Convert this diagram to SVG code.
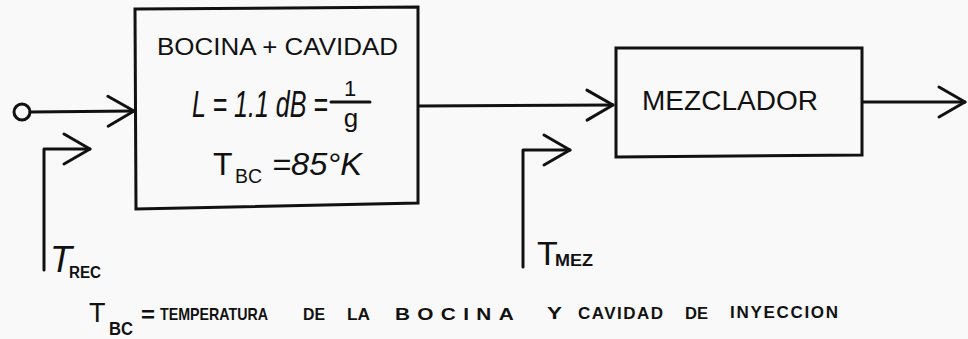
<svg xmlns="http://www.w3.org/2000/svg" width="968" height="339" viewBox="0 0 968 339">
<style>
.ln{fill:none;stroke:#111;stroke-width:3;stroke-linecap:round;stroke-linejoin:round}
.box{fill:none;stroke:#111;stroke-width:3;stroke-linejoin:miter}
.t{font-family:"Liberation Sans",Arial,sans-serif;fill:#111}
.b{font-weight:bold}
.i{font-style:italic}
.w{font-family:"Liberation Sans",Arial,sans-serif;fill:#111;font-weight:bold;font-size:17px}
</style>
<defs>
<marker id="chev" viewBox="-30 -19 34 38" refX="0" refY="0" markerWidth="34" markerHeight="38" markerUnits="userSpaceOnUse" orient="auto">
<path d="M-26,-15 L0,0 L-26,15" fill="none" stroke="#111" stroke-width="3" stroke-linecap="round" stroke-linejoin="round"/>
</marker>
</defs>
<rect width="968" height="339" fill="#f9f9f9"/>
<g id="connectors">
<circle cx="22" cy="112" r="8" class="ln"/>
<path class="ln" d="M30 112 L134 111" marker-end="url(#chev)"/>
<path class="ln" d="M44 270 L44 149 L90 149" marker-end="url(#chev)"/>
<path class="ln" d="M419 106 L613 105" marker-end="url(#chev)"/>
<path class="ln" d="M523 267 L523 150 L570 150" marker-end="url(#chev)"/>
<path class="ln" d="M863 102 L965 102" marker-end="url(#chev)"/>
</g>
<g id="bocina">
<path class="box" d="M135 9 L418 7 L418 203 L136 209 Z"/>
<text class="t" x="157" y="55" font-size="23" textLength="241" lengthAdjust="spacingAndGlyphs">BOCINA + CAVIDAD</text>
<text class="t i" x="192" y="117" font-size="37" textLength="136" lengthAdjust="spacingAndGlyphs">L = 1.1 dB =</text>
<text class="t" x="350" y="96" font-size="22" text-anchor="middle">1</text>
<line x1="331" y1="102" x2="370" y2="102" class="ln" stroke-width="2.5"/>
<text class="t" x="351" y="127" font-size="26" text-anchor="middle">g</text>
<text class="t" x="213" y="175" font-size="32">T</text>
<text class="t" x="235" y="183" font-size="20" textLength="27" lengthAdjust="spacingAndGlyphs">BC</text>
<text class="t i" x="272" y="175" font-size="32" textLength="90" lengthAdjust="spacingAndGlyphs">=85°K</text>
</g>
<g id="mezclador">
<path class="box" d="M616 48 L862 48 L862 155 L616 157 Z"/>
<text class="t" x="642" y="110" font-size="28" textLength="176" lengthAdjust="spacing">MEZCLADOR</text>
</g>
<g id="trec">
<text class="t i" x="50" y="272" font-size="36">T</text>
<text class="t b" x="69" y="278" font-size="16" textLength="32" lengthAdjust="spacingAndGlyphs">REC</text>
</g>
<g id="tmez">
<text class="t" x="537" y="265" font-size="34">T</text>
<text class="t b" x="555" y="266" font-size="16" textLength="38" lengthAdjust="spacingAndGlyphs">MEZ</text>
</g>
<g id="leyenda">
<text class="t" x="89" y="322" font-size="27">T</text>
<text class="t b" x="109" y="335" font-size="18" textLength="24" lengthAdjust="spacingAndGlyphs">BC</text>
<text class="t b" x="141" y="322" font-size="22" textLength="14" lengthAdjust="spacingAndGlyphs">=</text>
<text class="w" x="160" y="320" textLength="108" lengthAdjust="spacingAndGlyphs">TEMPERATURA</text>
<text class="w" x="303" y="320" textLength="22" lengthAdjust="spacingAndGlyphs">DE</text>
<text class="w" x="347" y="320" textLength="23" lengthAdjust="spacingAndGlyphs">LA</text>
<text class="w" x="395" y="320" font-size="19" letter-spacing="6" textLength="126" lengthAdjust="spacingAndGlyphs">BOCINA</text>
<text class="w" x="547" y="319" textLength="15" lengthAdjust="spacingAndGlyphs">Y</text>
<text class="w" x="578" y="319" textLength="85" lengthAdjust="spacing">CAVIDAD</text>
<text class="w" x="685" y="319" textLength="23" lengthAdjust="spacingAndGlyphs">DE</text>
<text class="w" x="730" y="318" textLength="108" lengthAdjust="spacing">INYECCION</text>
</g>
</svg>
